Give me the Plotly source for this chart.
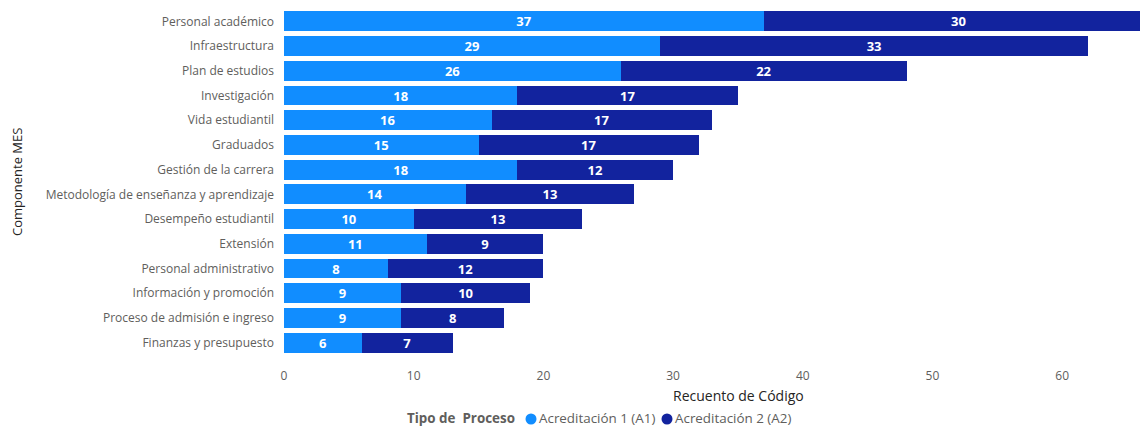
import plotly.graph_objects as go

categories = [
    "Personal académico", "Infraestructura", "Plan de estudios", "Investigación",
    "Vida estudiantil", "Graduados", "Gestión de la carrera",
    "Metodología de enseñanza y aprendizaje", "Desempeño estudiantil", "Extensión",
    "Personal administrativo", "Información y promoción",
    "Proceso de admisión e ingreso", "Finanzas y presupuesto",
]
a1_values = [37, 29, 26, 18, 16, 15, 18, 14, 10, 11, 8, 9, 9, 6]
a2_values = [30, 33, 22, 17, 17, 17, 12, 13, 13, 9, 12, 10, 8, 7]
series_names = ["Acreditación 1 (A1)", "Acreditación 2 (A2)"]
legend_title = "Tipo de  Proceso"
x_ticks = [0, 10, 20, 30, 40, 50, 60]

C1 = "#118DFF"
C2 = "#12239E"
FONT = "Segoe UI, Open Sans, sans-serif"

L, R, T, B = 284, 0, 9, 73
W, H = 1140, 428
PW, PH = W - L - R, H - T - B


def px_x(p):
    return (p - L) / PW


def px_y(p):
    return (H - B - p) / PH


fig = go.Figure()
for name, vals, col in [(series_names[0], a1_values, C1), (series_names[1], a2_values, C2)]:
    fig.add_trace(go.Bar(
        y=categories, x=vals, name=name, orientation="h",
        marker=dict(color=col, line=dict(width=0)),
        text=[str(v) for v in vals], textposition="inside", textangle=0,
        insidetextanchor="middle", constraintext="none",
        textfont=dict(family=FONT, size=13, color="white", weight="bold"),
        showlegend=False,
    ))

legend_y = 418
LEG_SIZE = 13.4
annotations = [
    dict(text="Recuento de Código", xref="paper", yref="paper", x=px_x(738),
         y=px_y(395), xanchor="center", yanchor="middle", showarrow=False,
         font=dict(size=14, color="#252423")),
    dict(text="Componente MES", xref="paper", yref="paper", x=px_x(17),
         y=px_y(182), xanchor="center", yanchor="middle", textangle=-90,
         showarrow=False, font=dict(size=13, color="#252423")),
    dict(text="<b>%s</b>" % legend_title, xref="paper", yref="paper", x=px_x(405),
         y=px_y(legend_y), xanchor="left", yanchor="middle", showarrow=False,
         font=dict(size=LEG_SIZE, color="#605E5C")),
    dict(text=series_names[0], xref="paper", yref="paper", x=px_x(537),
         y=px_y(legend_y), xanchor="left", yanchor="middle", showarrow=False,
         font=dict(size=LEG_SIZE, color="#605E5C")),
    dict(text=series_names[1], xref="paper", yref="paper", x=px_x(673),
         y=px_y(legend_y), xanchor="left", yanchor="middle", showarrow=False,
         font=dict(size=LEG_SIZE, color="#605E5C")),
]
shapes = []
for cx, col in [(531, C1), (667, C2)]:
    shapes.append(dict(type="circle", xref="paper", yref="paper",
                       xsizemode="pixel", ysizemode="pixel",
                       xanchor=px_x(cx), yanchor=px_y(legend_y + 1),
                       x0=-5.5, x1=5.5, y0=-5.5, y1=5.5,
                       fillcolor=col, line=dict(width=0)))

fig.update_layout(
    barmode="stack",
    bargap=0.2,
    width=W, height=H,
    margin=dict(l=L, r=R, t=T, b=B),
    paper_bgcolor="white", plot_bgcolor="white",
    font=dict(family=FONT, size=12, color="#605E5C"),
    xaxis=dict(range=[0, 66], tickvals=x_ticks, showgrid=False, zeroline=False,
               showline=False, ticks="", ticklabelstandoff=12,
               tickfont=dict(size=12, color="#605E5C")),
    yaxis=dict(autorange="reversed", categoryorder="array", categoryarray=categories,
               showgrid=False, zeroline=False, showline=False, ticks="",
               ticklabelstandoff=9, tickfont=dict(size=12, color="#605E5C")),
    annotations=annotations,
    shapes=shapes,
)

fig.write_html("out.html")
